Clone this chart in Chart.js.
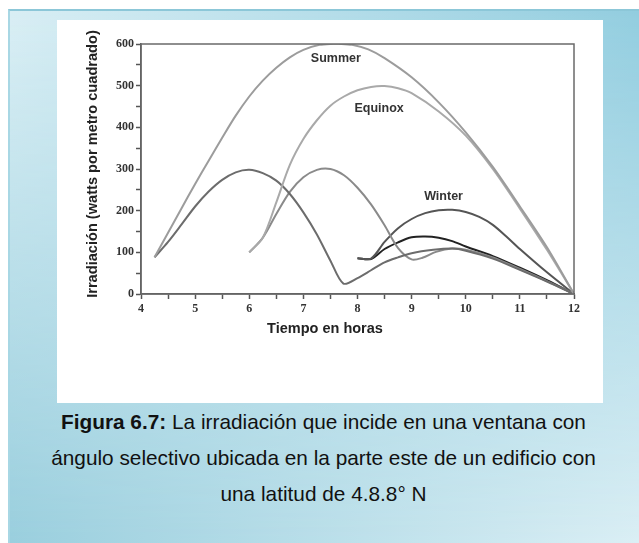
<!DOCTYPE html>
<html>
<head>
<meta charset="utf-8">
<script src="https://cdn.jsdelivr.net/npm/chart.js@4.4.0/dist/chart.umd.min.js"></script>
<style>
html, body { margin: 0; padding: 0; background: #fff; }
body { width: 639px; height: 543px; position: relative; overflow: hidden; font-family: "Liberation Sans", Arial, sans-serif; }
#marco {
  position: absolute; left: 8px; top: 9px; right: 0; bottom: 0;
  border-top: 2px solid #8cc7d8; border-left: 2px solid #a8d7e4;
  background: linear-gradient(to right, #9acfde, #dbeff5);
}
#capa {
  position: absolute; left: 0; top: 0; right: 0; bottom: 0;
  background: linear-gradient(to right, #d9eef4, #92cddf);
  -webkit-mask-image: linear-gradient(to bottom, #000 0%, transparent 100%);
  mask-image: linear-gradient(to bottom, #000 0%, transparent 100%);
}
#panel { position: absolute; left: 57px; top: 20px; width: 546px; height: 383px; background: #fff; }
#grafica { position: absolute; left: 0; top: 0; }
#pie {
  position: absolute; left: 8px; right: 0; top: 404px;
  text-align: center; font-size: 20.8px; line-height: 36px; color: #111;
}
</style>
</head>
<body>
<div id="marco"><div id="capa"></div></div>
<div id="panel"><canvas id="grafica" width="546" height="330"></canvas></div>
<div id="pie"><b>Figura 6.7:</b> La irradiación que incide en una ventana con<br>ángulo selectivo ubicada en la parte este de un edificio con<br>una latitud de 4.8.8° N</div>
<script>
// datos (hora, W/m2)
var summerHoras = [4.25, 4.5, 4.75, 5.0, 5.25, 5.5, 5.75, 6.0, 6.25, 6.5, 6.75, 7.0, 7.3, 7.6, 7.9, 8.2, 8.5, 9.0, 9.5, 10.0, 10.5, 11.0, 11.5, 12.0];
var summerValores = [88, 147, 206, 264, 320, 375, 428, 474, 512, 543, 568, 586, 598, 601, 598, 587, 566, 520, 460, 388, 305, 210, 112, 0];

var equinoxHoras = [6.0, 6.25, 6.5, 6.75, 7.0, 7.25, 7.5, 7.75, 8.0, 8.25, 8.5, 8.75, 9.0, 9.5, 10.0, 10.5, 11.0, 11.5, 12.0];
var equinoxValores = [100, 135, 220, 310, 372, 417, 452, 474, 489, 497, 499, 494, 482, 438, 380, 300, 205, 106, 0];

var curvaAHoras = [4.25, 4.5, 4.75, 5.0, 5.25, 5.5, 5.75, 6.0, 6.25, 6.5, 6.75, 7.0, 7.25, 7.5, 7.74, 8.0, 8.25, 8.5, 8.75, 9.0, 9.4, 9.75, 10.0, 10.5, 11.0, 11.5, 12.0];
var curvaAValores = [88, 125, 167, 210, 246, 274, 292, 298, 290, 272, 240, 196, 143, 80, 25, 38, 57, 76, 88, 98, 106, 109, 104, 85, 58, 30, 0];

var curvaBHoras = [6.0, 6.25, 6.5, 6.75, 7.0, 7.25, 7.5, 7.75, 8.0, 8.25, 8.5, 8.75, 9.0, 9.2, 9.45, 9.75, 10.0, 10.5, 11.0, 11.5, 12.0];
var curvaBValores = [100, 135, 192, 245, 280, 298, 300, 285, 255, 215, 165, 110, 83, 87, 101, 109, 106, 88, 60, 31, 0];

var winterHoras = [8.0, 8.25, 8.5, 8.75, 9.0, 9.25, 9.5, 9.75, 10.0, 10.25, 10.5, 10.75, 11.0, 11.5, 12.0];
var winterValores = [86, 85, 125, 158, 180, 194, 201, 202, 197, 185, 166, 138, 108, 52, 0];

var winter2Horas = [8.0, 8.25, 8.5, 8.75, 9.0, 9.25, 9.5, 9.75, 10.0, 10.5, 11.0, 11.5, 12.0];
var winter2Valores = [86, 84, 108, 124, 136, 138, 135, 127, 114, 91, 63, 33, 0];

var etiquetas = [
  { texto: "Summer", x: 7.6, y: 564 },
  { texto: "Equinox", x: 8.4, y: 444 },
  { texto: "Winter", x: 9.59, y: 233 }
];

function puntos(horas, valores) {
  return horas.map(function (h, i) { return { x: h, y: valores[i] }; });
}

function serie(nombre, horas, valores, color) {
  return {
    label: nombre,
    data: puntos(horas, valores),
    borderColor: color,
    borderWidth: 2,
    pointRadius: 0,
    fill: false,
    tension: 0.3
  };
}

var textos = {
  id: 'textos',
  afterDraw: function (chart) {
    var ctx = chart.ctx;
    var sx = chart.scales.x, sy = chart.scales.y, a = chart.chartArea;
    ctx.save();
    // marco
    ctx.strokeStyle = '#6a6a6a';
    ctx.lineWidth = 1.5;
    ctx.strokeRect(a.left, a.top, a.right - a.left, a.bottom - a.top);
    // etiquetas de series
    ctx.fillStyle = '#333';
    ctx.font = 'bold 12.5px "Liberation Sans", Arial, sans-serif';
    ctx.textAlign = 'center';
    ctx.textBaseline = 'middle';
    etiquetas.forEach(function (e) {
      ctx.fillText(e.texto, sx.getPixelForValue(e.x), sy.getPixelForValue(e.y));
    });
    // titulos de ejes
    ctx.fillStyle = '#222';
    ctx.font = 'bold 14.5px "Liberation Sans", Arial, sans-serif';
    ctx.fillText('Tiempo en horas', 268, 309);
    ctx.translate(36, 144);
    ctx.rotate(-Math.PI / 2);
    ctx.font = 'bold 14.6px "Liberation Sans", Arial, sans-serif';
    ctx.fillText('Irradiación (watts por metro cuadrado)', 0, 0);
    ctx.restore();
  }
};

var ctx = document.getElementById("grafica").getContext('2d');
var grafica = new Chart(ctx, {
  type: "line",
  data: {
    datasets: [
      serie('Summer', summerHoras, summerValores, '#9c9c9c'),
      serie('Equinox', equinoxHoras, equinoxValores, '#a9a9a9'),
      serie('Curva A', curvaAHoras, curvaAValores, '#6c6c6c'),
      serie('Curva B', curvaBHoras, curvaBValores, '#8a8a8a'),
      serie('Winter', winterHoras, winterValores, '#555555'),
      serie('Winter 2', winter2Horas, winter2Valores, '#222222')
    ]
  },
  options: {
    responsive: false,
    animation: false,
    layout: { padding: { left: 0, top: 24, right: 29, bottom: 0 } },
    plugins: { legend: { display: false }, tooltip: { enabled: false } },
    scales: {
      x: {
        type: 'linear',
        min: 4, max: 12,
        afterFit: function (s) { s.height = 56; },
        border: { display: true, color: '#555', width: 1.5 },
        grid: { drawOnChartArea: false, tickLength: 5, tickColor: '#555', tickWidth: 1.5 },
        ticks: {
          stepSize: 0.5,
          padding: 3,
          color: '#333',
          font: { family: '"Liberation Serif", "Times New Roman", serif', weight: 'bold', size: 12 },
          callback: function (v) { return Number.isInteger(v) ? v : ''; }
        }
      },
      y: {
        min: 0, max: 600,
        afterFit: function (s) { s.width = 84; },
        border: { display: true, color: '#555', width: 1.5 },
        grid: { drawOnChartArea: false, tickLength: 5, tickColor: '#555', tickWidth: 1.5 },
        ticks: {
          stepSize: 50,
          padding: 2,
          color: '#333',
          font: { family: '"Liberation Serif", "Times New Roman", serif', weight: 'bold', size: 12 },
          callback: function (v) { return v % 100 === 0 ? v : ''; }
        }
      }
    }
  },
  plugins: [textos]
});
</script>
</body>
</html>
